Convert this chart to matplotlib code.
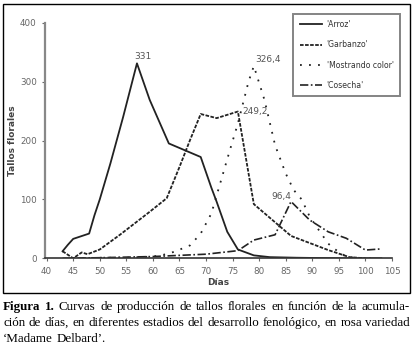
import matplotlib
matplotlib.use("Agg")
import matplotlib.pyplot as plt
from matplotlib.patches import Rectangle

# Data
arroz_x = [43, 44, 45, 48, 49, 50, 52, 54.4, 57, 59.4, 63, 69, 71, 72, 74, 76, 79, 82, 87, 95, 103]
arroz_y = [12, 23, 33, 42, 73, 100, 161, 240, 331, 269, 195, 172, 120, 96, 45, 15, 5, 2, 1, 0, 0]

garb_x = [43, 45, 46.6, 47.7, 50, 53.8, 59.4, 62.6, 65, 67, 69, 72, 76, 79, 86, 93, 97, 100]
garb_y = [12, 0, 10, 7, 15, 40, 79, 102, 155, 201, 245, 238, 249.2, 92, 38, 14, 2, 0]

most_x = [45, 50, 55, 60, 62, 64, 67, 69, 71, 72.3, 74.5, 76, 78, 79, 81, 83, 85, 86.5, 88, 89.5, 91, 93, 94, 96, 97, 99, 101]
most_y = [0, 1, 1, 3, 6, 11, 22, 42, 76, 116, 184, 229, 300, 326.4, 269, 192, 144, 116, 100, 71, 51, 25, 17, 5, 2, 0, 0]

cos_x = [43, 50, 55, 60, 65, 70, 76, 79, 83, 86, 89.5, 93, 96.4, 100, 103]
cos_y = [0, 1, 2, 3, 5, 7, 13, 31, 40, 96.4, 65, 45, 34, 14, 16]

labels = ["'Arroz'", "'Garbanzo'", "'Mostrando color'", "'Cosecha'"]
peaks = [("331", 58.2, 343), ("326,4", 81.7, 337), ("249,2", 79.3, 249), ("96,4", 84.2, 105)]
xticks = list(range(40, 106, 5))
yticks = [0, 100, 200, 300, 400]
caption_lines = [
    "Figura 1. Curvas de producción de tallos florales en función de la acumula-",
    "ción de días, en diferentes estadios del desarrollo fenológico, en rosa variedad",
    "‘Madame Delbard’.",
]

W, H = 417, 356
fig = plt.figure(figsize=(W / 100, H / 100), dpi=100)
ax = fig.add_axes([0.108, 0.2744, 0.832, 0.6618])

ax.plot(arroz_x, arroz_y, color='#222222', lw=1.3, ls='-', label=labels[0])
ax.plot(garb_x, garb_y, color='#222222', lw=1.3, ls=(0, (2, 0.8)), label=labels[1])
ax.plot(most_x, most_y, color='#222222', lw=1.3, ls=(0, (1, 4)), label=labels[2])
ax.plot(cos_x, cos_y, color='#222222', lw=1.2, ls=(0, (5, 1.5, 1, 1.5)), label=labels[3])

for t, x, y in peaks:
    ax.text(x, y, t, fontsize=6.5, color='#555555', ha='center', va='center')

ax.set_xlim(39.7, 105)
ax.set_ylim(0, 400)
ax.set_xticks(xticks)
ax.set_yticks(yticks)
ax.tick_params(axis='both', labelsize=6.3, labelcolor='#666666', color='#666666', length=2.5, width=0.8)
for s in ['top', 'right']:
    ax.spines[s].set_visible(False)
ax.spines['left'].set_color('#888888')
ax.spines['left'].set_linewidth(1.6)
ax.spines['bottom'].set_color('#333333')
ax.spines['bottom'].set_linewidth(1.2)
ax.set_xlabel('Días', fontsize=6.5, fontweight='bold', color='#444444', labelpad=2)
ax.set_ylabel('Tallos florales', fontsize=6.5, fontweight='bold', color='#444444')
ax.yaxis.set_label_coords(-0.08, 0.5)

leg = ax.legend(loc='upper right', bbox_to_anchor=(1.023, 1.037), borderaxespad=0,
                fontsize=5.6, frameon=True, fancybox=False, handlelength=2.9,
                labelspacing=1.45, borderpad=0.8, handletextpad=0.6)
leg.get_frame().set_edgecolor('#666666')
leg.get_frame().set_linewidth(1.4)
for t in leg.get_texts():
    t.set_color('#333333')

# outer frame
fig.patches.append(Rectangle((3 / W, 1 - 293 / H), 407 / W, 289 / H, transform=fig.transFigure,
                             fill=False, edgecolor='black', lw=1.0))

# caption (justified)
cap_font = 'Liberation Serif'
renderer = fig.canvas.get_renderer()
left_px, right_px = 3, 410
fs = 9.4


def width_of(s, bold=False):
    t = fig.text(0, 0, s, fontsize=fs, family=cap_font, fontweight='bold' if bold else 'normal')
    w = t.get_window_extent(renderer).width
    t.remove()
    return w


w2 = width_of(caption_lines[1])
fs = fs * (right_px - left_px) / w2 * 0.99

tops = [301, 317, 333]
for i, line in enumerate(caption_lines):
    words = line.split(' ')
    bold_flags = [False] * len(words)
    if i == 0:
        bold_flags[0] = True
        bold_flags[1] = True
    widths = [width_of(w, b) for w, b in zip(words, bold_flags)]
    justify = i < len(caption_lines) - 1
    if justify and len(words) > 1:
        gap = (right_px - left_px - sum(widths)) / (len(words) - 1)
    else:
        gap = fs * 0.25 * 100 / 72
    x = left_px
    for w, b, wd in zip(words, bold_flags, widths):
        fig.text(x / W, 1 - tops[i] / H, w, fontsize=fs, family=cap_font,
                 fontweight='bold' if b else 'normal', va='top')
        x += wd + gap

fig.savefig('out.png', dpi=100)
